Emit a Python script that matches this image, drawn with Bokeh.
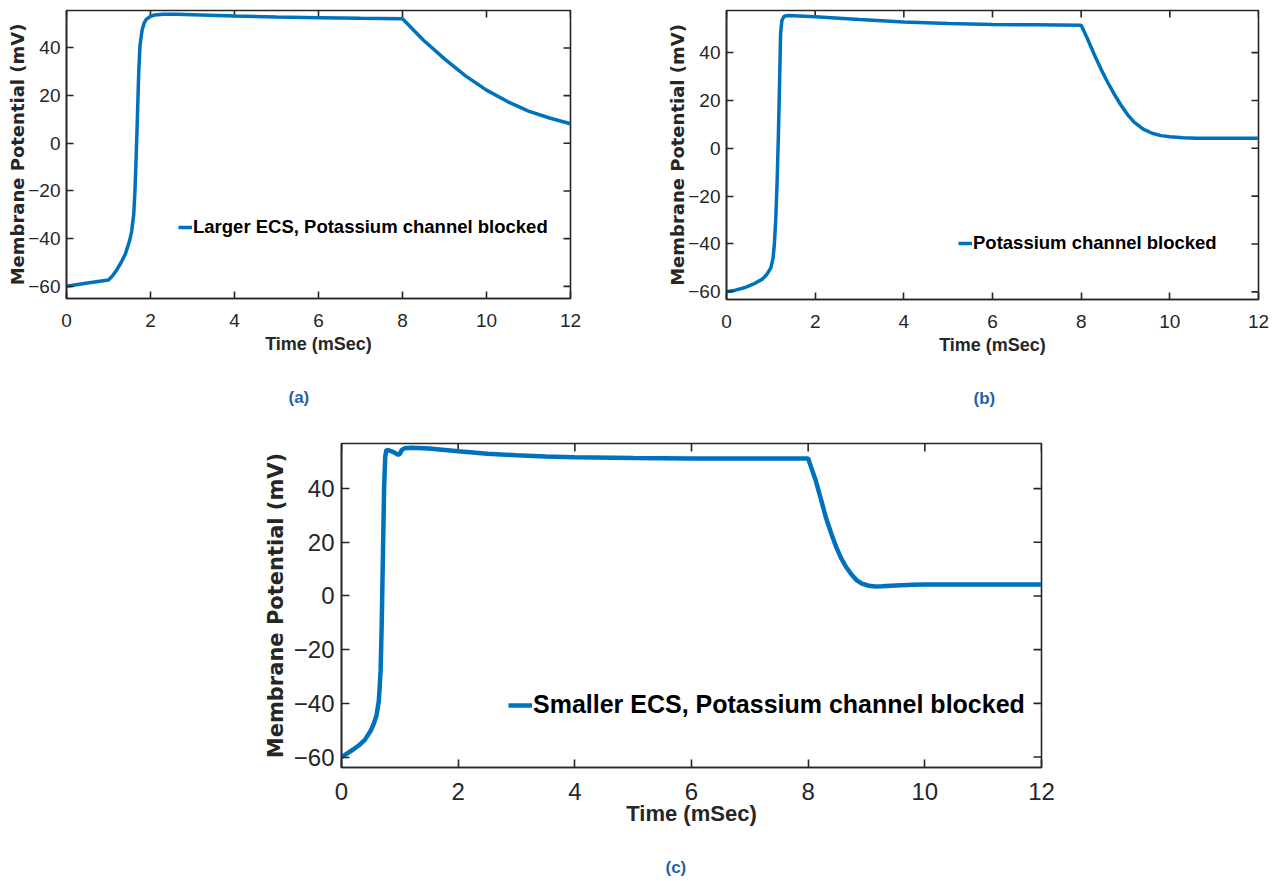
import math
from bokeh.plotting import figure
from bokeh.models import Legend, LegendItem, Title, FixedTicker, Range1d
from bokeh.layouts import column, row
from bokeh.embed import file_html
from bokeh.resources import INLINE

# ---------------- data ----------------
x_ticks = [0, 2, 4, 6, 8, 10, 12]
y_ticks = [-60, -40, -20, 0, 20, 40]

legend_a = "Larger ECS, Potassium channel blocked"
legend_b = "Potassium channel blocked"
legend_c = "Smaller ECS, Potassium channel blocked"
panel_a = "(a)"
panel_b = "(b)"
panel_c = "(c)"
x_title = "Time (mSec)"
y_title = "Membrane Potential (mV)"

time_a = [0, 0.5, 1.0, 1.1, 1.2, 1.3, 1.4, 1.5, 1.55, 1.6, 1.63, 1.66, 1.69, 1.72,
          1.75, 1.8, 1.85, 1.9, 2.0, 2.1, 2.3, 2.6, 3, 4, 5, 6, 7, 8, 8.5, 9, 9.5,
          10, 10.5, 11, 11.5, 12]
volt_a = [-60, -58.6, -57.3, -55.5, -53, -50, -46.5, -41, -37, -30, -20, -5, 12, 30,
          41, 47.5, 50.5, 52, 53.3, 53.8, 54.1, 54.1, 53.9, 53.4, 53.0, 52.7, 52.4, 52.2,
          43.2, 35.4, 28.3, 22.3, 17.5, 13.5, 10.6, 8.2]

time_b = [0, 0.2, 0.4, 0.6, 0.8, 0.9, 1.0, 1.05, 1.08, 1.11, 1.14, 1.17, 1.2, 1.22,
          1.25, 1.3, 1.4, 2, 3, 4, 5, 6, 7, 8, 8.15, 8.3, 8.45, 8.6, 8.75, 8.9, 9.05,
          9.2, 9.4, 9.6, 9.8, 10.0, 10.3, 10.6, 11, 12]
volt_b = [-60, -59.3, -58.3, -56.8, -54.8, -53, -50, -46, -40, -30, -15, 5, 30, 48,
          53.5, 55.2, 55.5, 55, 53.8, 52.8, 52.2, 51.8, 51.6, 51.4, 45.5, 39, 33, 27.5,
          22.5, 18, 14, 10.8, 8, 6.3, 5.3, 4.8, 4.4, 4.2, 4.2, 4.2]

time_c = [0, 0.1, 0.2, 0.3, 0.4, 0.5, 0.55, 0.6, 0.64, 0.67, 0.69, 0.71, 0.73, 0.75,
          0.77, 0.82, 0.9, 0.97, 1.0, 1.03, 1.08, 1.2, 1.5, 2, 2.5, 3, 3.5, 4, 5, 6,
          7, 8, 8.05, 8.13, 8.22, 8.3, 8.4, 8.48, 8.56, 8.65, 8.75, 8.83, 8.92, 9.04,
          9.15, 9.26, 9.5, 9.8, 10, 11, 12]
volt_c = [-60, -58.6, -57.2, -55.6, -53.6, -50.2, -47.8, -44.5, -39, -28, -10, 15, 40, 52,
          54.4, 54.2, 53.5, 52.6, 52.9, 54.3, 55.0, 55.2, 54.9, 53.9, 53.0, 52.4, 52.0,
          51.7, 51.4, 51.2, 51.2, 51.2, 48, 43, 36, 29.5, 23, 18.3, 14.3, 10.8, 7.8,
          5.9, 4.6, 3.8, 3.5, 3.6, 3.9, 4.2, 4.3, 4.3, 4.3]

# ---------------- styling ----------------
LINE = "#0072BD"
AX = "#262626"
PANEL_COL = "#1F62A5"


def make_panel(t, v, legend_text, panel_text, fw, fh, mb, yr, st):
    p = figure(frame_width=fw, frame_height=fh, output_backend="svg",
               toolbar_location=None, x_range=Range1d(0, 12),
               y_range=Range1d(yr[0], yr[1]),
               min_border_left=mb[0], min_border_right=mb[1],
               min_border_top=mb[2], min_border_bottom=mb[3],
               x_axis_label=x_title, y_axis_label=y_title)
    p.grid.visible = False
    p.outline_line_color = AX
    p.outline_line_width = 1.6
    p.background_fill_color = "white"
    p.border_fill_color = "white"

    p.xaxis.ticker = FixedTicker(ticks=x_ticks)
    p.yaxis.ticker = FixedTicker(ticks=y_ticks)
    for ax in (p.xaxis[0], p.yaxis[0]):
        ax.axis_line_color = AX
        ax.axis_line_width = 1.6
        ax.major_tick_line_color = AX
        ax.major_tick_line_width = 1.6
        ax.major_tick_in = st["tick"]
        ax.major_tick_out = 0
        ax.minor_tick_line_color = None
        ax.major_label_text_font = "Liberation Sans"
        ax.major_label_text_font_size = st["tick_fs"]
        ax.major_label_text_color = AX
    p.xaxis.major_label_standoff = st["xl_so"]
    p.yaxis.major_label_standoff = st["yl_so"]
    p.xaxis.axis_label_text_font = "Liberation Sans"
    p.xaxis.axis_label_text_font_style = "bold"
    p.xaxis.axis_label_text_font_size = st["xt_fs"]
    p.xaxis.axis_label_text_color = AX
    p.xaxis.axis_label_standoff = st["xt_so"]
    p.yaxis.axis_label_text_font = "DejaVu Sans"
    p.yaxis.axis_label_text_font_style = "bold"
    p.yaxis.axis_label_text_font_size = st["yt_fs"]
    p.yaxis.axis_label_text_color = AX
    p.yaxis.axis_label_standoff = st["yt_so"]

    # inward tick marks on the top and right edges of the box (clipped to the frame)
    p.scatter(x=x_ticks, y=[yr[1]] * len(x_ticks), marker="dash", angle=math.pi / 2,
              size=2 * st["tick"], line_color=AX, line_width=1.6)
    p.scatter(x=[12] * len(y_ticks), y=y_ticks, marker="dash", angle=0,
              size=2 * st["tick"], line_color=AX, line_width=1.6)

    r = p.line(t, v, line_color=LINE, line_width=st["lw"])
    leg = Legend(items=[LegendItem(label=legend_text, renderers=[r])],
                 location=st["leg_loc"], border_line_alpha=0, background_fill_alpha=0,
                 label_text_font="Liberation Sans", label_text_font_style="bold",
                 label_text_font_size=st["leg_fs"], label_text_color="black",
                 glyph_width=st["glyph_w"], glyph_height=20, label_standoff=1,
                 padding=0, margin=0, spacing=0)
    p.add_layout(leg, "center")

    ttl = Title(text=panel_text, align="left", offset=st["pan_off"],
                text_font="Liberation Sans", text_font_style="bold",
                text_font_size=st["pan_fs"], text_color=PANEL_COL, standoff=st["pan_so"])
    p.add_layout(ttl, "below")
    return p


style_ab = dict(tick=7, tick_fs="19px", xl_so=15, yl_so=6, xt_fs="18px", xt_so=4,
                yt_fs="18px", yt_so=-3, lw=3.5, leg_fs="18.5px", glyph_w=14,
                pan_fs="17px", pan_so=59)

st_a = dict(style_ab, leg_loc=(112, 60), pan_off=222)
st_b = dict(style_ab, leg_loc=(232, 45), pan_off=247)
st_c = dict(tick=8, tick_fs="24px", xl_so=15, yl_so=7, xt_fs="22px", xt_so=-2,
            yt_fs="21px", yt_so=3, lw=4.5, leg_fs="25px", glyph_w=24, leg_loc=(167, 48),
            pan_fs="17px", pan_so=54, pan_off=324)

pa = make_panel(time_a, volt_a, legend_a, panel_a, 504, 288, (66, 70, 10, 132),
                (-65.1, 55.7), st_a)
pb = make_panel(time_b, volt_b, legend_b, panel_b, 532, 289, (86, 19, 7, 134),
                (-63.2, 57.6), st_b)
pc = make_panel(time_c, volt_c, legend_c, panel_c, 700, 324, (341, 236, 7, 110),
                (-63.9, 56.8), st_c)

layout = column(row(pa, pb), pc)
open("out.html", "w").write(file_html(layout, INLINE))
